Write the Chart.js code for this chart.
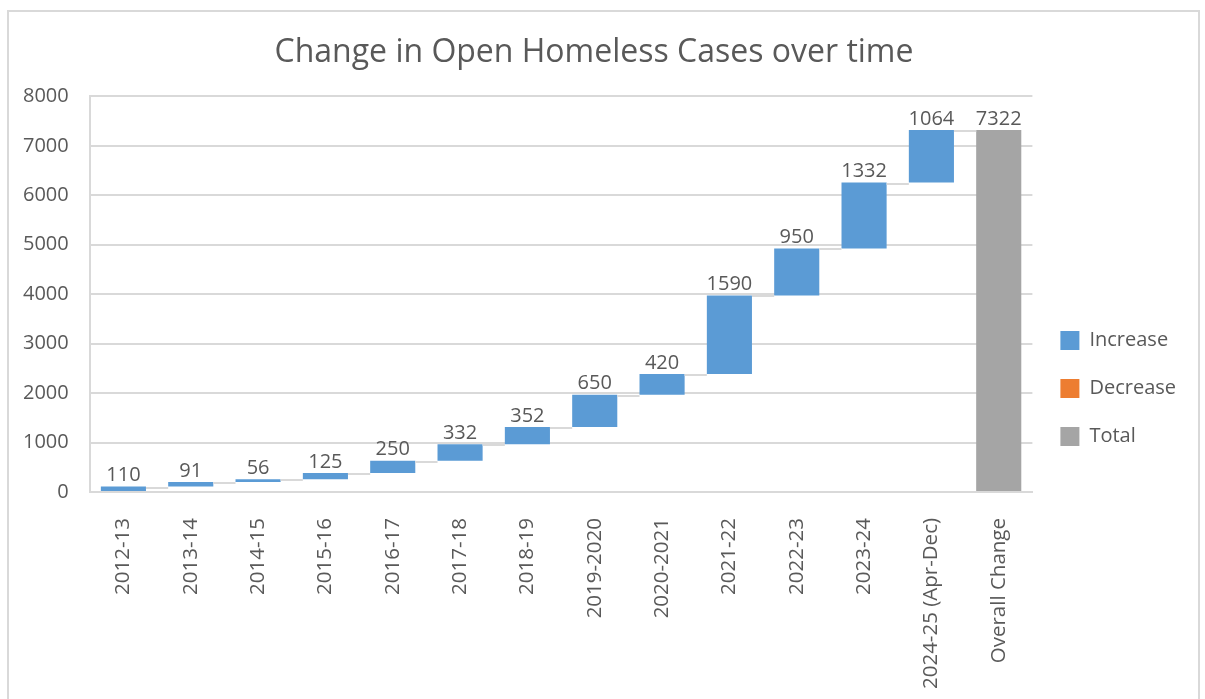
<!DOCTYPE html>
<html>
<head>
<meta charset="utf-8">
<script src="https://cdn.jsdelivr.net/npm/chart.js@4/dist/chart.umd.min.js"></script>
<style>
    html, body { margin: 0; padding: 0; background: #fff; overflow: hidden; }
    #box {
        position: absolute; left: 7px; top: 10px;
        width: 1193px; height: 700px;
        border: 2px solid #d9d9d9; box-sizing: border-box;
    }
    #wrap { position: absolute; left: 0; top: 0; width: 1189px; height: 686px; }
</style>
</head>
<body>
<div id="box"><div id="wrap"><canvas id="waterfall"></canvas></div></div>
<script>
const categories = ['2012-13', '2013-14', '2014-15', '2015-16', '2016-17', '2017-18', '2018-19',
    '2019-2020', '2020-2021', '2021-22', '2022-23', '2023-24', '2024-25 (Apr-Dec)', 'Overall Change'];
const changes = [110, 91, 56, 125, 250, 332, 352, 650, 420, 1590, 950, 1332, 1064];
const overallTotal = 7322;
const yTicks = [0, 1000, 2000, 3000, 4000, 5000, 6000, 7000, 8000];

const BLUE = '#5b9bd5', ORANGE = '#ed7d31', GREY = '#a5a5a5', TEXT = '#595959', GRID = '#d9d9d9';

// running totals -> floating [start, end] bars
let running = 0;
const increaseBars = changes.map(v => {
    const bar = [running, running + v];
    running += v;
    return bar;
});
increaseBars.push(null);
const totalBars = categories.map((c, i) => i === categories.length - 1 ? [0, overallTotal] : null);
const decreaseBars = categories.map(() => null);

// connector lines between consecutive bars + value labels
const waterfallExtras = {
    id: 'waterfallExtras',
    afterDatasetsDraw(chart) {
        const ctx = chart.ctx;
        const y = chart.scales.y;
        const inc = chart.getDatasetMeta(0).data;
        const tot = chart.getDatasetMeta(2).data;
        const bars = categories.map((c, i) => i < changes.length ? inc[i] : tot[i]);
        const ends = increaseBars.slice(0, changes.length).map(b => b[1]).concat([overallTotal]);
        const labels = changes.concat([overallTotal]);

        ctx.save();
        ctx.strokeStyle = GRID;
        ctx.lineWidth = 2;
        for (let i = 0; i < bars.length - 1; i++) {
            const a = bars[i], b = bars[i + 1];
            const py = Math.round(y.getPixelForValue(ends[i])) + 1;
            ctx.beginPath();
            ctx.moveTo(a.x + a.width / 2, py);
            ctx.lineTo(b.x - b.width / 2, py);
            ctx.stroke();
        }
        ctx.fillStyle = TEXT;
        ctx.font = '20px "Open Sans"';
        ctx.textAlign = 'center';
        ctx.textBaseline = 'bottom';
        bars.forEach((bar, i) => {
            ctx.fillText(String(labels[i]), bar.x, y.getPixelForValue(ends[i]) - 1);
        });
        ctx.restore();
    }
};

Chart.defaults.font.family = '"Open Sans", sans-serif';
Chart.defaults.color = TEXT;

new Chart(document.getElementById('waterfall'), {
    type: 'bar',
    data: {
        labels: categories,
        datasets: [
            { label: 'Increase', data: increaseBars, backgroundColor: BLUE },
            { label: 'Decrease', data: decreaseBars, backgroundColor: ORANGE },
            { label: 'Total', data: totalBars, backgroundColor: GREY }
        ]
    },
    options: {
        responsive: true,
        maintainAspectRatio: false,
        animation: false,
        categoryPercentage: 0.67,
        barPercentage: 1,
        layout: { padding: { left: -7, right: 12, top: 0, bottom: 0 } },
        plugins: {
            title: {
                display: true,
                text: 'Change in Open Homeless Cases over time',
                color: TEXT,
                font: { size: 32, weight: 'normal' },
                padding: { top: 22, bottom: 24 }
            },
            legend: {
                position: 'right',
                // empty legend title only pushes the entries down
                title: { display: true, text: '', font: { size: 10 }, padding: { top: 55, bottom: 0 } },
                labels: {
                    boxWidth: 19,
                    boxHeight: 19,
                    padding: 28,
                    color: TEXT,
                    font: { size: 20 }
                }
            },
            tooltip: { enabled: false }
        },
        scales: {
            x: {
                stacked: true,
                grid: { display: false },
                border: { color: GRID, width: 2 },
                ticks: { minRotation: 90, maxRotation: 90, autoSkip: false, font: { size: 20.5 }, padding: 18 },
                // fixed band for the rotated category names
                afterFit: axis => { axis.height = 206; }
            },
            y: {
                min: 0,
                max: 8000,
                afterBuildTicks: axis => { axis.ticks = yTicks.map(v => ({ value: v })); },
                grid: { color: GRID, lineWidth: 2, drawTicks: false },
                border: { display: true, color: GRID, width: 2 },
                ticks: { font: { size: 20 }, padding: 21, callback: v => String(v) }
            }
        }
    },
    plugins: [waterfallExtras]
});
</script>
</body>
</html>
